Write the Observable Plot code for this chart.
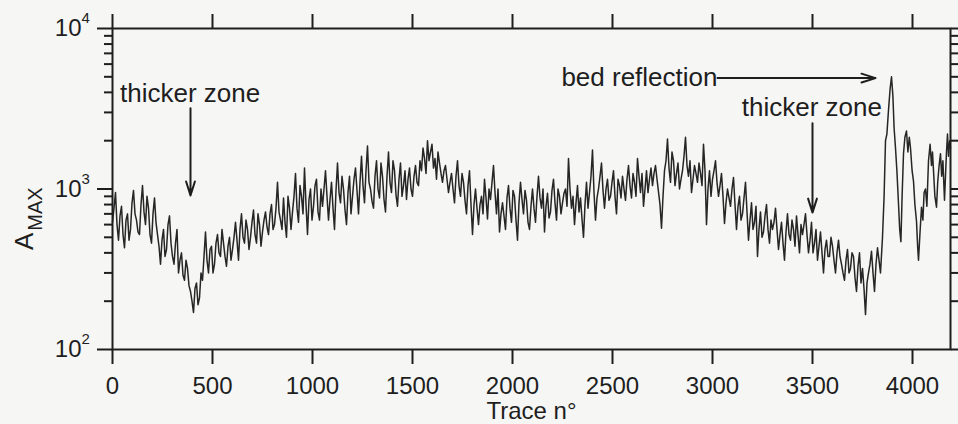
<!DOCTYPE html>
<html>
<head>
<meta charset="utf-8">
<script src="https://cdn.jsdelivr.net/npm/d3@7"></script>
<script src="https://cdn.jsdelivr.net/npm/@observablehq/plot@0.6"></script>
<style>
  html, body { margin: 0; padding: 0; background: #f6f6f5; }
  #chart svg { display: block; background: #f6f6f5; }
</style>
</head>
<body>
<div id="chart"></div>
<script>
// ---- data ----
const traceStep = 15; // samples at traces 0, 15, ... 3840
const amax = [
  620, 950, 480, 780, 430, 700, 560, 980, 640, 520,
  1050, 600, 760, 460, 880, 520, 340, 560, 420, 680,
  380, 460, 300, 400, 270, 320, 230, 170, 260, 210,
  270, 540, 300, 440, 340, 520, 380, 460, 330, 500,
  420, 620, 360, 700, 460, 560, 500, 740, 460, 600,
  540, 720, 520, 800, 600, 1100, 640, 880, 500, 760,
  720, 1250, 620, 900, 1350, 520, 1000, 780, 1150, 640,
  780, 1300, 640, 1100, 560, 1450, 820, 1000, 600, 1200,
  900, 1350, 700, 1600, 820, 1850, 1000, 760, 1500, 880,
  1200, 720, 1700, 950, 1300, 780, 1450, 1050, 860, 1350,
  900, 1400, 1050, 1300, 1550, 2000, 1700, 1350, 1150, 1450,
  1100, 1400, 950, 1250, 820, 1500, 900, 1100, 700, 1300,
  520, 1000, 600, 900, 1150, 650, 860, 1400, 700, 540,
  820, 560, 1050, 620, 900, 480, 1100, 700, 850, 560,
  1000, 620, 1200, 760, 540, 940, 720, 1150, 640, 900,
  820, 1000, 1550, 760, 600, 1050, 880, 500, 1100, 950,
  1750, 640, 1000, 1450, 760, 1150, 900, 1300, 700, 1050,
  1200, 850, 1400, 880, 1100, 1550, 950, 780, 1300, 1150,
  1050, 1400, 960, 570, 1300, 2050, 1100, 1500, 1250, 1000,
  1300, 2100, 1200, 950, 1400, 1100, 1250, 1900, 600, 1300,
  1150, 1500, 900, 1250, 610, 1000, 780, 1180, 560, 900,
  700, 1100, 480, 820, 620, 380, 720, 540, 800, 460,
  560, 760, 420, 620, 360, 700, 480, 560, 680, 400,
  520, 700, 400, 620, 460, 360, 540, 300, 480, 380,
  440, 300, 480, 340, 270, 420, 320, 380, 230, 400,
  320, 165, 300, 410, 230, 430, 300
];
// in-between samples at traces 7.5, 22.5, ... 3832.5
const amaxMid = [
  760, 600, 680, 520, 640, 480, 820, 700, 540, 800,
  720, 900, 520, 700, 620, 440, 480, 380, 600, 460,
  340, 560, 360, 290, 360, 250, 200, 240, 190, 300,
  380, 360, 420, 300, 460, 400, 560, 380, 440, 360,
  500, 480, 560, 500, 640, 420, 620, 520, 700, 440,
  640, 580, 700, 560, 760, 720, 560, 620, 900, 560,
  900, 760, 1050, 700, 800, 860, 640, 1050, 720, 1000,
  1000, 900, 860, 760, 980, 950, 1200, 740, 950, 700,
  1150, 980, 1100, 1050, 1300, 1100, 840, 1200, 1000, 1450,
  860, 1200, 1100, 1500, 920, 1150, 900, 1300, 1150, 1000,
  1200, 1100, 1500, 1800, 1250, 1500, 1900, 1550, 1700, 1250,
  1300, 1150, 1100, 1000, 1200, 1050, 1250, 850, 1050, 800,
  800, 760, 800, 700, 880, 1000, 1100, 950, 1000, 700,
  680, 880, 760, 980, 640, 820, 860, 980, 620, 780,
  760, 900, 880, 1000, 780, 660, 980, 820, 1000, 700,
  940, 780, 1000, 900, 820, 720, 650, 800, 760, 1200,
  950, 880, 1200, 980, 1000, 850, 1100, 900, 1150, 880,
  1000, 1150, 1050, 1250, 900, 1200, 1250, 1000, 950, 1350,
  1250, 1150, 800, 900, 1500, 1350, 1700, 1050, 1450, 1150,
  1600, 1400, 1500, 1150, 1250, 1450, 1050, 1300, 1000, 900,
  1300, 1100, 1050, 900, 820, 880, 1000, 800, 780, 640,
  880, 720, 640, 560, 780, 560, 500, 680, 560, 640,
  620, 560, 520, 460, 540, 520, 640, 440, 520, 600,
  600, 520, 480, 400, 560, 440, 400, 420, 380, 500,
  360, 400, 380, 300, 360, 300, 400, 280, 330, 260,
  240, 260, 340, 300, 340, 360
];
// bed-reflection tail, read more finely
const tailTrace = [3850, 3858, 3865, 3872, 3880, 3888, 3895, 3902, 3908, 3915, 3922, 3930, 3936, 3942, 3948, 3955, 3962, 3970, 3977, 3984, 3990, 3998, 4005, 4012, 4020, 4026, 4030, 4037, 4045, 4052, 4058, 4065, 4072, 4080, 4088, 4095, 4100, 4105, 4112, 4120, 4126, 4133, 4140, 4146, 4152, 4160, 4166, 4170, 4175, 4180, 4186, 4190];
const tailAmax  = [500, 900, 2000, 2200, 3100, 4200, 5000, 3800, 2400, 1800, 1300, 810, 560, 470, 900, 1660, 2100, 2300, 1700, 2100, 1800, 1300, 1120, 800, 630, 430, 360, 520, 770, 640, 950, 1000, 780, 1500, 1900, 1400, 1700, 1300, 900, 770, 1100, 1400, 1660, 1200, 1500, 850, 1300, 1700, 2200, 1600, 2000, 1800];

const xTicks = [0, 500, 1000, 1500, 2000, 2500, 3000, 3500, 4000];
const yMajor = [100, 1000, 10000];
const yBase = "10";
const yExp = ["2", "3", "4"];
const yMinor = [200, 300, 400, 500, 600, 700, 800, 900, 2000, 3000, 4000, 5000, 6000, 7000, 8000, 9000];
const xLabel = "Trace n°";
const yLabelMain = "A";
const yLabelSub = "MAX";

// annotations (in data units)
const noteMid = [{text: "thicker zone", trace: 388, amax: 3950}, {text: "thicker zone", trace: 3497, amax: 3230}];
const noteEnd = [{text: "bed reflection", trace: 3025, amax: 4910}];
const arrows = [
  {t1: 390, a1: 3190, t2: 390, a2: 912},
  {t1: 3025, a1: 4910, t2: 3815, a2: 4910},
  {t1: 3500, a1: 2570, t2: 3500, a2: 713}
];

// ---- build ----
const series = [];
amax.forEach((v, i) => {
  series.push({trace: i * traceStep, amax: v});
  if (i < amaxMid.length) series.push({trace: i * traceStep + traceStep / 2, amax: amaxMid[i]});
});
tailTrace.forEach((t, i) => series.push({trace: t, amax: tailAmax[i]}));

const font = "Liberation Sans, Arial, Helvetica, sans-serif";
const ink = "#1e1e1e";

const chart = Plot.plot({
  width: 958,
  height: 424,
  marginLeft: 112,
  marginRight: 8,
  marginTop: 28,
  marginBottom: 75,
  style: {fontFamily: font, background: "#f6f6f5", color: ink},
  x: {domain: [0, 4190]},
  y: {type: "log", domain: [100, 10000]},
  marks: [
    Plot.line(series, {x: "trace", y: "amax", stroke: "#262626", strokeWidth: 1.5}),
    Plot.frame({stroke: ink, strokeWidth: 2}),
    // bottom axis
    Plot.axisX({anchor: "bottom", ticks: xTicks, tickSize: 15, tickPadding: 12, strokeWidth: 2, fontSize: 24, fill: ink, tickFormat: d => String(d), label: null}),
    // top axis ticks
    Plot.axisX({anchor: "top", ticks: xTicks, tickSize: 15, strokeWidth: 2, tickFormat: () => "", label: null}),
    // left axis
    Plot.axisY({anchor: "left", ticks: yMajor, tickSize: 15, strokeWidth: 2, tickFormat: () => "", label: null}),
    Plot.axisY({anchor: "left", ticks: yMinor, tickSize: 8, strokeWidth: 2, tickFormat: () => "", label: null}),
    // right axis
    Plot.axisY({anchor: "right", ticks: yMajor, tickSize: 15, strokeWidth: 2, tickFormat: () => "", label: null}),
    Plot.axisY({anchor: "right", ticks: yMinor, tickSize: 8, strokeWidth: 2, tickFormat: () => "", label: null}),
    // y tick labels 10^n
    Plot.text(yMajor, {y: d => d, text: () => yBase, frameAnchor: "left", dx: -31, textAnchor: "end", lineAnchor: "middle", fontSize: 24, fill: ink}),
    Plot.text(yMajor, {y: d => d, text: (d, i) => yExp[i], frameAnchor: "left", dx: -31, dy: -10, textAnchor: "start", lineAnchor: "middle", fontSize: 15, fill: ink}),
    // x axis title
    Plot.text([xLabel], {text: d => d, frameAnchor: "bottom", dy: 62, textAnchor: "middle", lineAnchor: "middle", fontSize: 24, fill: ink}),
    // annotations
    Plot.arrow(arrows, {x1: "t1", y1: "a1", x2: "t2", y2: "a2", stroke: ink, strokeWidth: 2, headLength: 11, headAngle: 35}),
    Plot.text(noteMid, {x: "trace", y: "amax", text: "text", fontSize: 26, fill: ink}),
    Plot.text(noteEnd, {x: "trace", y: "amax", text: "text", textAnchor: "end", fontSize: 26, fill: ink})
  ]
});

// rotated y-axis title with subscript
const yTitle = d3.select(chart).append("text")
  .attr("transform", "translate(33,250) rotate(-90)")
  .attr("font-family", font)
  .attr("fill", ink)
  .attr("text-anchor", "start");
yTitle.append("tspan").attr("font-size", 26).text(yLabelMain);
yTitle.append("tspan").attr("font-size", 20).attr("dx", 2).attr("dy", 9).text(yLabelSub);

document.getElementById("chart").appendChild(chart);
</script>
</body>
</html>
